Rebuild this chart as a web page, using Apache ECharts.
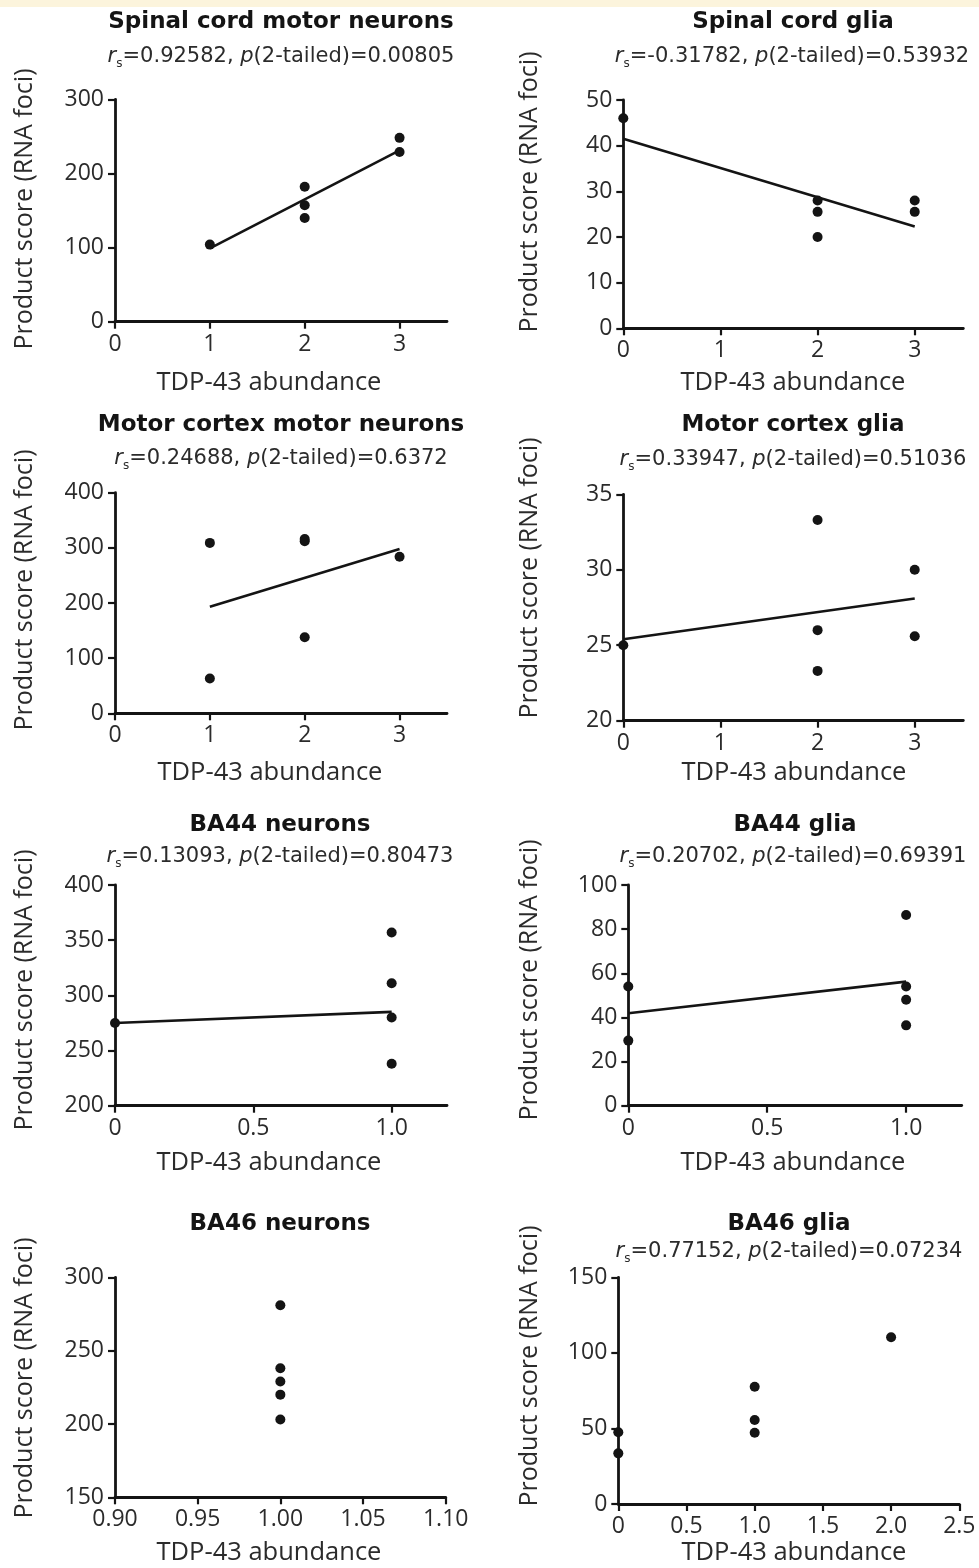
<!DOCTYPE html>
<html>
<head>
<meta charset="utf-8">
<script src="https://cdn.jsdelivr.net/npm/echarts@6/dist/echarts.min.js"></script>
<style>
  html, body { margin: 0; padding: 0; background: #fff; }
  #main { width: 979px; height: 1568px; }
</style>
</head>
<body>
<div id="main"></div>
<script>
var myChart = echarts.init(document.getElementById('main'));

// ---- data ----
var titles = ['Spinal cord motor neurons', 'Spinal cord glia', 'Motor cortex motor neurons', 'Motor cortex glia',
              'BA44 neurons', 'BA44 glia', 'BA46 neurons', 'BA46 glia'];
var rsValues = ['0.92582', '-0.31782', '0.24688', '0.33947', '0.13093', '0.20702', null, '0.77152'];
var pValues  = ['0.00805', '0.53932', '0.6372', '0.51036', '0.80473', '0.69391', null, '0.07234'];

var scmnX = [1, 2, 2, 2, 3, 3];
var scmnY = [104, 182, 157, 140, 248, 229];
var scmnFitX = [1, 3];
var scmnFitY = [99, 231];

var scgX = [0, 2, 2, 2, 3, 3];
var scgY = [46, 28, 25.5, 20, 28, 25.5];
var scgFitX = [0, 3];
var scgFitY = [41.5, 22.3];

var mcmnX = [1, 1, 2, 2, 2, 3];
var mcmnY = [309, 63, 312, 316, 138, 284];
var mcmnFitX = [1, 3];
var mcmnFitY = [193, 298];

var mcgX = [0, 2, 2, 2, 3, 3];
var mcgY = [25, 33.3, 26, 23.3, 30, 25.6];
var mcgFitX = [0, 3];
var mcgFitY = [25.4, 28.1];

var ba44nX = [0, 1, 1, 1, 1];
var ba44nY = [275, 357, 311, 280, 238];
var ba44nFitX = [0, 1];
var ba44nFitY = [275, 285];

var ba44gX = [0, 0, 1, 1, 1, 1];
var ba44gY = [54, 29.5, 86.4, 54, 48, 36.4];
var ba44gFitX = [0, 1];
var ba44gFitY = [41.9, 56.2];

var ba46nX = [1, 1, 1, 1, 1];
var ba46nY = [281, 238, 229, 220, 203];

var ba46gX = [0, 0, 1, 1, 1, 2];
var ba46gY = [47.5, 33.5, 77.6, 55.6, 47.2, 110.3];

// axis ranges and ticks
var xTicksInt = [0, 1, 2, 3];
var xTicksHalf = [0, 0.5, 1];
var xTicksBA46n = [0.9, 0.95, 1, 1.05, 1.1];
var xTicksBA46g = [0, 0.5, 1, 1.5, 2, 2.5];
var xRanges = [[0, 3.5], [0, 3.5], [0, 3.5], [0, 3.5], [0, 1.2], [0, 1.2], [0.9, 1.1], [0, 2.5]];
var yRanges = [[0, 300, 100], [0, 50, 10], [0, 400, 100], [20, 35, 5], [200, 400, 50], [0, 100, 20], [150, 300, 50], [0, 150, 50]];
var xTickSets = [xTicksInt, xTicksInt, xTicksInt, xTicksInt, xTicksHalf, xTicksHalf, xTicksBA46n, xTicksBA46g];
var xDecimals = [0, 0, 0, 0, 1, 1, 2, 1];

var pointsX = [scmnX, scgX, mcmnX, mcgX, ba44nX, ba44gX, ba46nX, ba46gX];
var pointsY = [scmnY, scgY, mcmnY, mcgY, ba44nY, ba44gY, ba46nY, ba46gY];
var fitsX = [scmnFitX, scgFitX, mcmnFitX, mcgFitX, ba44nFitX, ba44gFitX, null, null];
var fitsY = [scmnFitY, scgFitY, mcmnFitY, mcgFitY, ba44nFitY, ba44gFitY, null, null];

// ---- layout (pixels) ----
var grids = [
  {left: 115, top: 99.3, width: 332, height: 222.4},
  {left: 623.3, top: 100, width: 340, height: 228.3},
  {left: 115, top: 492.7, width: 332, height: 220.6},
  {left: 623.3, top: 494.3, width: 340, height: 226.4},
  {left: 115, top: 885, width: 332, height: 220.7},
  {left: 628.3, top: 885, width: 333.4, height: 220.7},
  {left: 115, top: 1277.3, width: 330.7, height: 220},
  {left: 618.3, top: 1277.3, width: 341, height: 226.7}
];
var titlePos = [[281, 21.7], [793, 21.7], [281, 425], [793, 425], [280, 825], [795, 825], [280, 1224], [789, 1224]];
var subPos = [[281, 57], [792, 57], [281, 459], [793, 460], [280, 857], [793, 857], null, [789, 1252]];
var xNamePos = [[269, 383], [793, 383], [270, 773], [794, 773], [269, 1163], [793, 1163], [269, 1553], [794, 1553]];
var yNamePos = [[25, 209], [530, 192], [25, 590], [530, 578], [25, 990], [530, 980], [25, 1378], [530, 1366]];

var ink = '#141414';
var labelColor = '#2b2b2b';
var humanist = '"Open Sans", "Noto Sans", sans-serif';
var plain = '"DejaVu Sans", "Liberation Sans", sans-serif';

var xAxes = [], yAxes = [], series = [], graphics = [];

graphics.push({type: 'rect', left: 0, top: 0, shape: {x: 0, y: 0, width: 979, height: 7}, style: {fill: '#fcf4dc'}, silent: true});

for (var i = 0; i < 8; i++) {
  (function (i) {
    var dec = xDecimals[i];
    var axisLineStyle = {color: ink, width: 2.8};
    xAxes.push({
      type: 'value', gridIndex: i, min: xRanges[i][0], max: xRanges[i][1],
      splitLine: {show: false},
      axisLine: {show: true, onZero: false, lineStyle: axisLineStyle},
      axisTick: {show: true, inside: false, length: 7, customValues: xTickSets[i], lineStyle: {color: ink, width: 2.2}},
      axisLabel: {
        customValues: xTickSets[i], margin: 11, fontSize: 23, color: labelColor, fontFamily: humanist,
        formatter: function (v) { return (v === 0 && dec < 2) ? '0' : v.toFixed(dec); }
      }
    });
    yAxes.push({
      type: 'value', gridIndex: i, min: yRanges[i][0], max: yRanges[i][1], interval: yRanges[i][2],
      splitLine: {show: false},
      axisLine: {show: true, onZero: false, lineStyle: axisLineStyle},
      axisTick: {show: true, inside: false, length: 7, lineStyle: {color: ink, width: 2.2}},
      axisLabel: {margin: 11, fontSize: 23, color: labelColor, fontFamily: humanist}
    });

    var pts = pointsX[i].map(function (x, k) { return [x, pointsY[i][k]]; });
    series.push({
      type: 'scatter', xAxisIndex: i, yAxisIndex: i, data: pts, symbolSize: 10, clip: false,
      itemStyle: {color: ink, opacity: 1}, z: 4
    });
    if (fitsX[i]) {
      var fit = fitsX[i].map(function (x, k) { return [x, fitsY[i][k]]; });
      series.push({
        type: 'line', xAxisIndex: i, yAxisIndex: i, data: fit, symbol: 'none', clip: false,
        lineStyle: {color: ink, width: 2.6}, z: 3
      });
    }

    graphics.push({
      type: 'text', x: titlePos[i][0], y: titlePos[i][1],
      style: {text: titles[i], align: 'center', verticalAlign: 'middle', fill: ink,
              fontFamily: plain, fontWeight: 'bold', fontSize: 23}
    });
    if (subPos[i]) {
      var base = {fontFamily: plain, fontSize: 21, fill: labelColor, lineHeight: 26, verticalAlign: 'middle'};
      graphics.push({
        type: 'text', x: subPos[i][0], y: subPos[i][1],
        style: {
          text: '{i|r}{s|s}{n|=' + rsValues[i] + ', }{i|p}{n|(2-tailed)=' + pValues[i] + '}',
          align: 'center', verticalAlign: 'middle',
          rich: {
            n: base,
            i: Object.assign({}, base, {fontStyle: 'italic'}),
            s: {fontFamily: plain, fontSize: 12, fill: labelColor, lineHeight: 12, verticalAlign: 'bottom'}
          }
        }
      });
    }
    graphics.push({
      type: 'text', x: xNamePos[i][0], y: xNamePos[i][1],
      style: {text: 'TDP-43 abundance', align: 'center', verticalAlign: 'middle', fill: labelColor,
              fontFamily: humanist, fontSize: 25.5}
    });
    graphics.push({
      type: 'text', x: yNamePos[i][0], y: yNamePos[i][1], rotation: Math.PI / 2,
      style: {text: 'Product score (RNA foci)', align: 'center', verticalAlign: 'middle', fill: labelColor,
              fontFamily: humanist, fontSize: 25}
    });
  })(i);
}

var option = {
  backgroundColor: '#ffffff',
  animation: false,
  grid: grids,
  xAxis: xAxes,
  yAxis: yAxes,
  series: series,
  graphic: graphics
};

myChart.setOption(option);
</script>
</body>
</html>
